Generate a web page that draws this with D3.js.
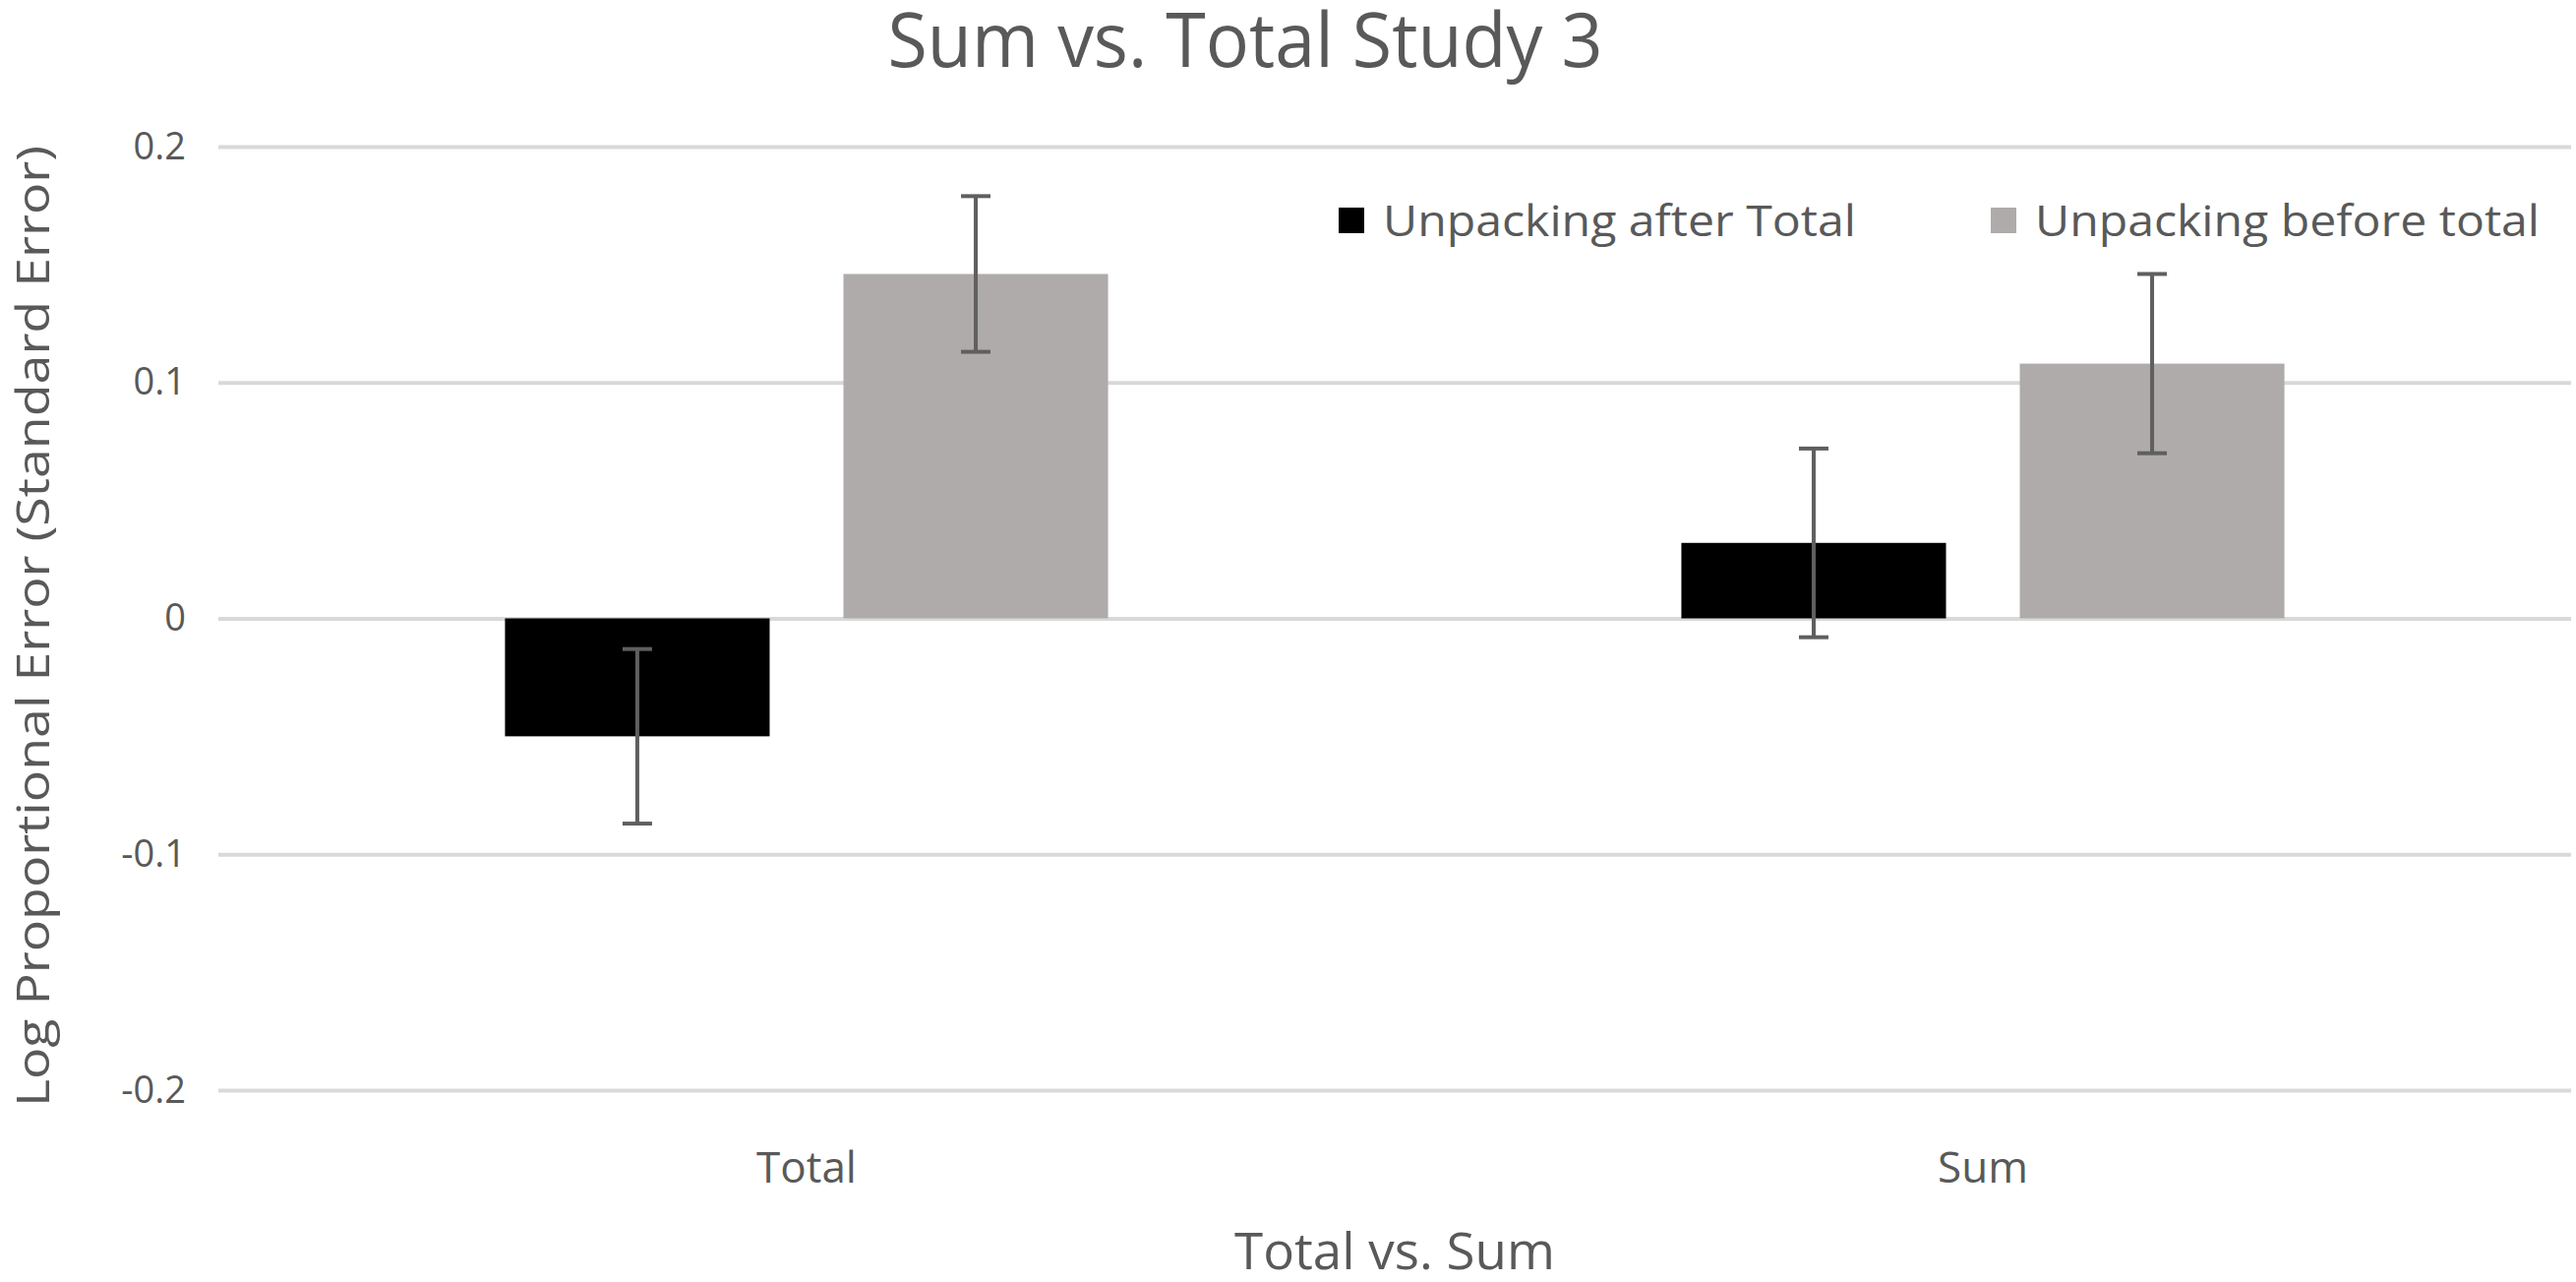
<!DOCTYPE html>
<html>
<head>
<meta charset="utf-8">
<script src="https://cdn.jsdelivr.net/npm/d3@7"></script>
<style>
  body { margin: 0; background: #fff; }
  text { font-family: "Open Sans", "Liberation Sans", sans-serif; fill: #595959; }
</style>
</head>
<body>
<svg id="chart" width="2619" height="1303"></svg>
<script>
// data
var categories = ["Total", "Sum"];
var seriesNames = ["Unpacking after Total", "Unpacking before total"];
var seriesColors = ["#000000", "#afabab"];
var afterTotal = [-0.050, 0.032];
var beforeTotal = [0.146, 0.108];
var afterErr = [0.037, 0.040];
var beforeErr = [0.033, 0.038];
var yTicks = [-0.2, -0.1, 0, 0.1, 0.2];

var svg = d3.select("#chart"),
    margin = {top: 149, right: 5, bottom: 195, left: 222},
    width = +svg.attr("width") - margin.left - margin.right,
    height = +svg.attr("height") - margin.top - margin.bottom,
    g = svg.append("g").attr("transform", "translate(" + margin.left + "," + margin.top + ")");

var rows = categories.map(function(c, i) {
  return {
    cat: c,
    vals: [
      {s: 0, v: afterTotal[i], e: afterErr[i]},
      {s: 1, v: beforeTotal[i], e: beforeErr[i]}
    ]
  };
});

var x0 = d3.scaleBand().domain(categories).range([0, width]).padding(0);
var x1 = d3.scaleBand().domain([0, 1]).range([0, x0.bandwidth()])
    .paddingInner(0.218).paddingOuter(0.847);
var y = d3.scaleLinear().domain([-0.2, 0.2]).range([height, 0]);

// gridlines + y tick labels (plain hyphen for negatives, like the original)
var yAxis = g.append("g")
    .call(d3.axisLeft(y).tickValues(yTicks).tickSize(-width).tickPadding(33)
      .tickFormat(function(d) { return d === 0 ? "0" : d3.format(".1f")(d).replace("\u2212", "-"); }));
yAxis.select(".domain").remove();
yAxis.selectAll("line").attr("stroke", "#d9d9d9").attr("stroke-width", 4);
yAxis.selectAll("text").attr("font-size", 38).attr("fill", "#595959")
    .style("font-family", "'Open Sans', sans-serif");

// bars
var groups = g.selectAll(".grp")
  .data(rows)
  .enter().append("g")
    .attr("transform", function(d) { return "translate(" + x0(d.cat) + ",0)"; });

groups.selectAll("rect")
  .data(function(d) { return d.vals; })
  .enter().append("rect")
    .attr("x", function(d) { return x1(d.s); })
    .attr("width", x1.bandwidth())
    .attr("y", function(d) { return y(Math.max(0, d.v)); })
    .attr("height", function(d) { return Math.abs(y(d.v) - y(0)); })
    .attr("fill", function(d) { return seriesColors[d.s]; });

// error bars
var eb = groups.selectAll(".err")
  .data(function(d) { return d.vals; })
  .enter().append("g")
    .attr("stroke", "#5f5f5f")
    .attr("stroke-width", 4);

eb.append("line")
    .attr("x1", function(d) { return x1(d.s) + x1.bandwidth() / 2; })
    .attr("x2", function(d) { return x1(d.s) + x1.bandwidth() / 2; })
    .attr("y1", function(d) { return y(d.v + d.e); })
    .attr("y2", function(d) { return y(d.v - d.e); });

[1, -1].forEach(function(sign) {
  eb.append("line")
      .attr("x1", function(d) { return x1(d.s) + x1.bandwidth() / 2 - 15; })
      .attr("x2", function(d) { return x1(d.s) + x1.bandwidth() / 2 + 15; })
      .attr("y1", function(d) { return y(d.v + sign * d.e); })
      .attr("y2", function(d) { return y(d.v + sign * d.e); });
});

// category labels
var xAxis = g.append("g")
    .attr("transform", "translate(0," + height + ")")
    .call(d3.axisBottom(x0).tickSize(0).tickPadding(63));
xAxis.select(".domain").remove();
xAxis.selectAll("text").attr("font-size", 44).attr("fill", "#595959")
    .style("font-family", "'Open Sans', sans-serif");

// titles
svg.append("text")
    .attr("x", 1266)
    .attr("y", 68)
    .attr("text-anchor", "middle")
    .attr("font-size", 76)
    .attr("textLength", 727)
    .attr("lengthAdjust", "spacingAndGlyphs")
    .text("Sum vs. Total Study 3");

svg.append("text")
    .attr("x", margin.left + width / 2)
    .attr("y", 1290)
    .attr("text-anchor", "middle")
    .attr("font-size", 51)
    .attr("textLength", 326)
    .attr("lengthAdjust", "spacingAndGlyphs")
    .text("Total vs. Sum");

svg.append("text")
    .attr("transform", "translate(50," + (margin.top + height / 2 + 8) + ") rotate(-90)")
    .attr("text-anchor", "middle")
    .attr("font-size", 46)
    .attr("textLength", 977)
    .attr("lengthAdjust", "spacingAndGlyphs")
    .text("Log Proportional Error (Standard Error)");

// legend
var legendX = [1361, 2024];
var legendW = [481, 513];
var legend = svg.selectAll(".legend")
  .data(seriesNames)
  .enter().append("g")
    .attr("transform", function(d, i) { return "translate(" + legendX[i] + ",224)"; });

legend.append("rect")
    .attr("x", 0)
    .attr("y", -13)
    .attr("width", 26)
    .attr("height", 26)
    .attr("fill", function(d, i) { return seriesColors[i]; });

legend.append("text")
    .attr("x", 45)
    .attr("y", 16)
    .attr("font-size", 44)
    .attr("textLength", function(d, i) { return legendW[i]; })
    .attr("lengthAdjust", "spacingAndGlyphs")
    .text(function(d) { return d; });
</script>
</body>
</html>
